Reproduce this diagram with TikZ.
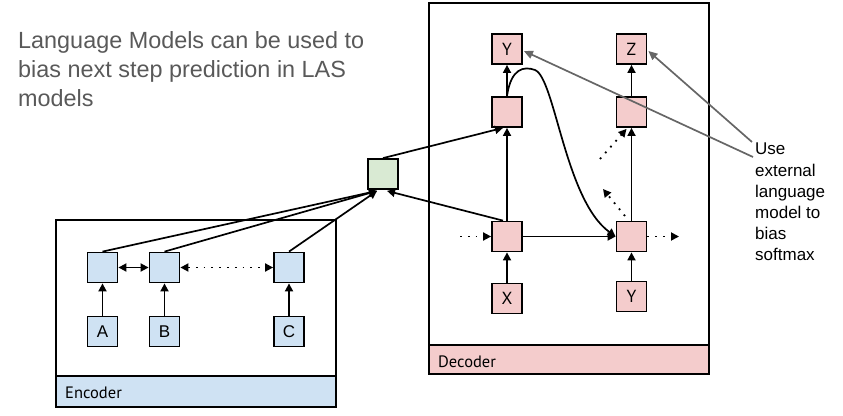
\documentclass[tikz,border=0pt]{standalone}
\usepackage{fontspec}
\setmainfont{Liberation Sans}
\newfontfamily\ptsans{PT Sans}
\usetikzlibrary{arrows.meta,calc}
\definecolor{pinkf}{HTML}{F4CCCC}
\definecolor{bluef}{HTML}{CFE2F3}
\definecolor{greenf}{HTML}{D9EAD3}
\definecolor{greyline}{HTML}{666666}
\definecolor{titlegrey}{HTML}{595959}
\begin{document}
\begin{tikzpicture}[x=1pt,y=-1pt,
  cell/.style={draw=black, line width=1.8pt, minimum size=30pt, inner sep=0pt},
  dcell/.style={cell, fill=pinkf, font=\ptsans\fontsize{17.5}{17.5}\selectfont},
  ecell/.style={cell, fill=bluef, font=\fontsize{17}{17}\selectfont},
  gcell/.style={cell, fill=greenf},
  frame/.style={draw=black, line width=1.7pt},
  conn/.style={line width=1.7pt, -{Triangle[length=8pt,width=8pt]}},
  biconn/.style={line width=1.7pt, {Triangle[length=8pt,width=8pt]}-{Triangle[length=8pt,width=8pt]}},
  dotconn/.style={line width=1.8pt, dash pattern=on 1.8pt off 6pt, -{Triangle[length=8pt,width=8pt]}},
  dotbiconn/.style={line width=1.8pt, dash pattern=on 1.8pt off 6pt, {Triangle[length=8pt,width=8pt]}-{Triangle[length=8pt,width=8pt]}},
  greyarrow/.style={draw=greyline, line width=1.7pt, -{Triangle[length=9pt,width=8pt]}},
  boxlabel/.style={anchor=base west, inner sep=0pt, font=\ptsans\fontsize{16.5}{16.5}\selectfont},
]
\useasboundingbox (0,0) rectangle (843,415);

% title
\node[anchor=north west, align=left, text=titlegrey, inner sep=0pt,
      font=\fontsize{23.4}{29}\selectfont] (title) at (18,31)
  {Language Models can be used to\\bias next step prediction in LAS\\models};

% encoder frame
\draw[frame] (56,220) rectangle (336,407);
\draw[frame, fill=bluef] (56,376) rectangle (336,407);
\node[boxlabel] (enclabel) at (65,398) {Encoder};

% decoder frame
\draw[frame] (429,3) rectangle (709,374);
\draw[frame, fill=pinkf] (429,345) rectangle (709,374);
\node[boxlabel] (declabel) at (438,367) {Decoder};

% encoder cells
\node[ecell] (e1) at (102.5,267.5) {};
\node[ecell] (e2) at (164.5,267.5) {};
\node[ecell] (e3) at (289,267.5) {};
\node[ecell] (A) at (102.5,331.5) {A};
\node[ecell] (B) at (164.5,331.5) {B};
\node[ecell] (C) at (289,331.5) {C};

% attention
\node[gcell] (g) at (383,174) {};

% decoder cells
\node[dcell] (d1) at (507,236.5) {};
\node[dcell] (d2) at (631.5,236.5) {};
\node[dcell] (h1) at (507,112) {};
\node[dcell] (h2) at (631.5,112) {};
\node[dcell] (y1) at (507,49) {Y};
\node[dcell] (z1) at (631.5,49) {Z};
\node[dcell] (x0) at (507,298.5) {X};
\node[dcell] (y0) at (631.5,296.5) {Y};

% note
\node[anchor=north west, align=left, inner sep=0pt,
      font=\fontsize{17}{21.2}\selectfont] (note) at (755,143)
  {Use\\external\\language\\model to\\bias\\softmax};

% encoder connectors
\draw[conn] (A) -- (e1);
\draw[conn] (B) -- (e2);
\draw[conn] (C) -- (e3);
\draw[biconn] (e1) -- (e2);
\draw[dotbiconn] (e2) -- (e3);
\coordinate (gl) at ($(g.south)+(-6,1)$);
\draw[conn] (e1.north) -- (gl);
\draw[conn] (e2.north) -- (gl);
\draw[conn] (e3.north) -- (gl);

% decoder connectors
\draw[conn] ($(d1.north)+(-4,0)$) -- ($(g.south)+(4,1)$);
\draw[conn] (g.north) -- ($(h1.south)+(-4,0)$);
\draw[conn] (x0) -- (d1);
\draw[conn] (y0) -- (d2);
\draw[conn] (d1) -- (h1);
\draw[conn] (d2) -- (h2);
\draw[conn] (h1) -- (y1);
\draw[conn] (h2) -- (z1);
\draw[conn] (d1) -- (d2);
\draw[conn] (h1.north) .. controls (511,68) and (524,66) .. (535,70)
                       .. controls (555,78) and (565,200) .. (d2.west);

% dotted connectors
\coordinate (lin) at (460,236.5);
\coordinate (rout) at (679,236.5);
\draw[dotconn] (lin) -- (d1);
\draw[dotconn] (d2) -- (rout);
\coordinate (da1) at (625,216);
\coordinate (da2) at (603,189);
\draw[dotconn] (da1) -- (da2);
\coordinate (db1) at (600,159);
\draw[dotconn] (db1) -- ($(h2.south)+(-5,1)$);

% grey arrows from note
\coordinate (u1) at (752,142);
\coordinate (u2) at (753,157);
\draw[greyarrow] (u1) -- ($(z1.east)+(1,2)$);
\draw[greyarrow] (u2) -- ($(y1.east)+(1,2)$);
\end{tikzpicture}
\end{document}
